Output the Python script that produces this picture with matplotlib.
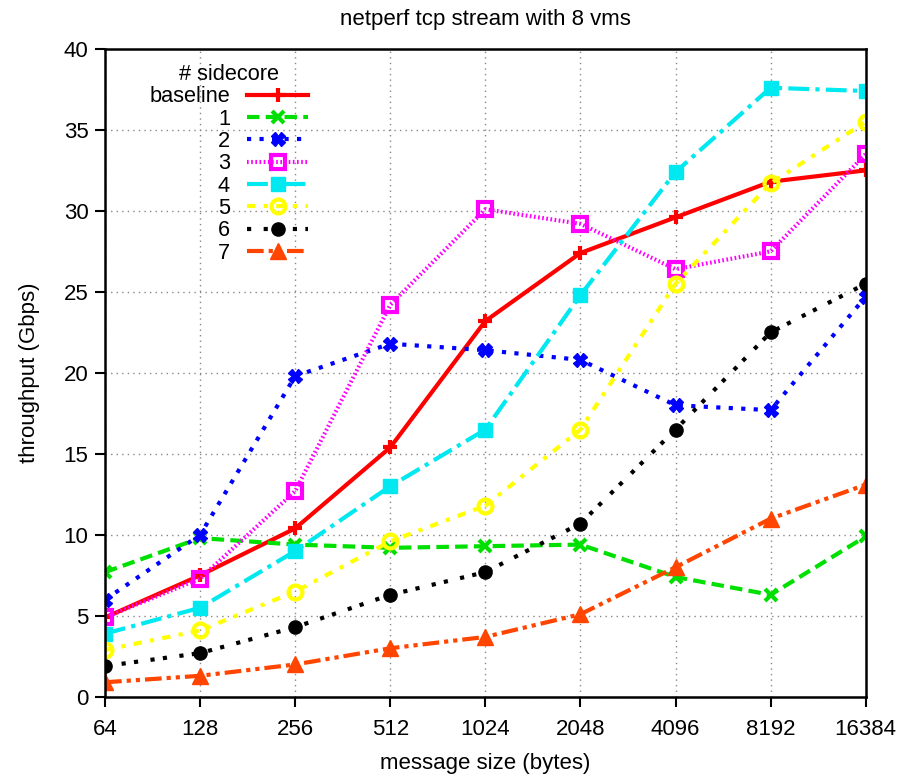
import matplotlib
matplotlib.use("Agg")
import matplotlib.pyplot as plt

plt.rcParams['font.family'] = ['Liberation Sans', 'DejaVu Sans']

sizes = ["64", "128", "256", "512", "1024", "2048", "4096", "8192", "16384"]
baseline = [4.9, 7.5, 10.4, 15.4, 23.2, 27.4, 29.6, 31.8, 32.5]
s1 = [7.7, 9.8, 9.4, 9.2, 9.3, 9.4, 7.4, 6.3, 9.9]
s2 = [6.0, 10.0, 19.8, 21.8, 21.4, 20.8, 18.0, 17.7, 24.7]
s3 = [4.9, 7.3, 12.7, 24.2, 30.1, 29.2, 26.4, 27.5, 33.5]
s4 = [3.9, 5.5, 9.0, 13.0, 16.5, 24.8, 32.4, 37.6, 37.4]
s5 = [2.9, 4.1, 6.5, 9.6, 11.8, 16.5, 25.5, 31.7, 35.5]
s6 = [1.9, 2.7, 4.3, 6.3, 7.7, 10.7, 16.5, 22.5, 25.5]
s7 = [0.9, 1.3, 2.0, 3.0, 3.7, 5.1, 8.0, 11.0, 13.1]

fig = plt.figure(figsize=(8.98, 7.76), dpi=100)
ax = fig.add_axes([0.117, 0.102, 0.847, 0.835])
x = list(range(len(sizes)))

ax.plot(x, baseline, color='#ff0000', lw=3, ls='-', marker='+', ms=10, mew=3, label='baseline')
ax.plot(x, s1, color='#00e000', lw=3, ls=(0, (3, 1.5)), marker='x', ms=8, mew=3, label='1')
ax.plot(x, s2, color='#0000ff', lw=3, ls=(0, (1, 2)), marker='X', ms=10, mew=1, label='2')
ax.plot(x, s3, color='#ff00ff', lw=3, ls=(0, (0.4, 0.6)), marker='s', ms=9.5, mew=3,
        mfc='none', label='3')
ax.plot(x, s4, color='#00e8f0', lw=3, ls=(0, (5, 1.5, 1, 1.5)), marker='s', ms=9.5, label='4')
ax.plot(x, s5, color='#ffff00', lw=3, ls=(0, (2, 2, 1, 2)), marker='o', ms=10, mew=3,
        mfc='none', label='5')
ax.plot(x, s6, color='#000000', lw=3, ls=(0, (1, 3, 1, 2)), marker='o', ms=9.5, label='6')
ax.plot(x, s7, color='#ff4500', lw=3, ls=(0, (4, 1.2, 1, 1.2, 1, 1.2)), marker='^', ms=11,
        label='7')

ax.set_xlim(0, len(sizes) - 1)
ax.set_ylim(0, 40)
ax.set_xticks(x)
ax.set_xticklabels(sizes)
ax.set_yticks(range(0, 41, 5))
ax.tick_params(labelsize=16, length=7, width=1.5, direction='out')
ax.tick_params(axis='x', pad=9)
ax.tick_params(axis='y', pad=5)
ax.grid(True, color='#888888', ls=(0, (1, 3)), lw=1)
for sp in ax.spines.values():
    sp.set_linewidth(1.8)

ax.set_xlabel('message size (bytes)', fontsize=16, labelpad=9)
ax.set_ylabel('throughput (Gbps)', fontsize=16, labelpad=17)
ax.set_title('netperf tcp stream with 8 vms', fontsize=16, pad=17)

leg = ax.legend(title='# sidecore', loc='upper left', bbox_to_anchor=(0.038, 1.0),
                frameon=False, markerfirst=False, fontsize=15.7, title_fontsize=15.7,
                handlelength=2.8, handletextpad=0.8, labelspacing=0.06, borderaxespad=0.3)
for t in leg.get_texts():
    t.set_ha('right')
leg._legend_box.align = 'center'

fig.savefig('out.png', dpi=100)
